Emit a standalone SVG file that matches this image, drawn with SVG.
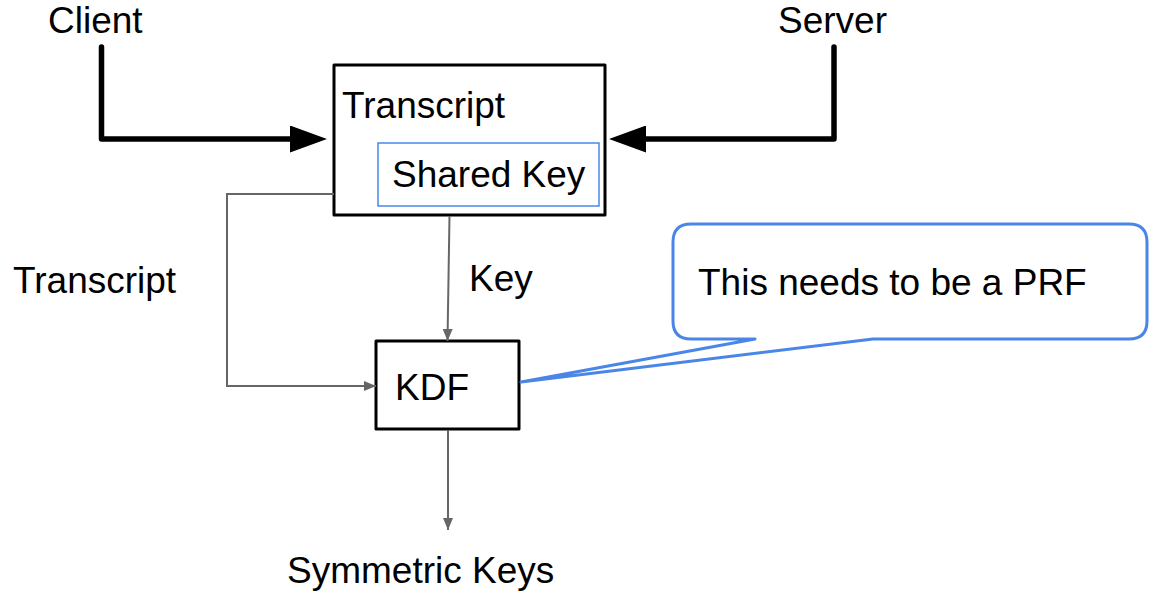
<svg xmlns="http://www.w3.org/2000/svg" width="1149" height="596" viewBox="0 0 1149 596">
  <style>
    text { font-family: "Liberation Sans", Arial, sans-serif; font-size: 37px; fill: #000; }
    .box { fill: #fff; stroke: #000; stroke-width: 3; stroke-linejoin: round; }
    .inner { fill: #fff; stroke: #4a86e8; stroke-width: 1.5; }
    .thick { fill: none; stroke: #000; stroke-width: 5.5; stroke-linecap: round; stroke-linejoin: round; }
    .thin { fill: none; stroke: #666; stroke-width: 2; }
    .callout { fill: #fff; stroke: #4a86e8; stroke-width: 3; stroke-linejoin: round; }
  </style>
  <defs>
    <marker id="bigHead" markerUnits="userSpaceOnUse" markerWidth="37" markerHeight="27" refX="7" refY="13.5" orient="auto">
      <path d="M0,0 L37,13.5 L0,27 Z" fill="#000"/>
    </marker>
    <marker id="smallHead" markerUnits="userSpaceOnUse" markerWidth="12" markerHeight="10" refX="12" refY="5" orient="auto">
      <path d="M0,0 L12,5 L0,10 Z" fill="#666"/>
    </marker>
  </defs>

  <!-- actor labels -->
  <g id="client">
    <text x="48" y="33">Client</text>
  </g>
  <g id="server">
    <text x="778" y="33">Server</text>
  </g>

  <!-- transcript box with nested shared key -->
  <g id="transcript">
    <rect class="box" x="334" y="65" width="271" height="150"/>
    <text x="342" y="118">Transcript</text>
  </g>
  <g id="shared-key">
    <rect class="inner" x="378" y="143" width="221" height="63"/>
    <text x="392" y="187">Shared Key</text>
  </g>

  <!-- key derivation function -->
  <g id="kdf">
    <rect class="box" x="376" y="341" width="143" height="88"/>
    <text x="395" y="400">KDF</text>
  </g>

  <g id="symmetric-keys">
    <text x="287" y="583">Symmetric Keys</text>
  </g>

  <!-- connectors -->
  <g id="connectors">
    <path class="thick" d="M101.5,47 V139 H297" marker-end="url(#bigHead)"/>
    <path class="thick" d="M834,47 V139 H639" marker-end="url(#bigHead)"/>
    <path class="thin" d="M334,194 H227 V386 H376" marker-end="url(#smallHead)"/>
    <path class="thin" d="M449.5,216 L447.5,341" marker-end="url(#smallHead)"/>
    <path class="thin" d="M448,430 V530" marker-end="url(#smallHead)"/>
    <text x="13" y="293">Transcript</text>
    <text x="469" y="291">Key</text>
  </g>

  <!-- comment callout pointing at KDF -->
  <g id="note">
    <path class="callout" d="M691,224 H1129 Q1147,224 1147,242 V321 Q1147,339 1129,339 H873 L521,382 L755,339 H691 Q673,339 673,321 V242 Q673,224 691,224 Z"/>
    <text x="698" y="295">This needs to be a PRF</text>
  </g>
</svg>
